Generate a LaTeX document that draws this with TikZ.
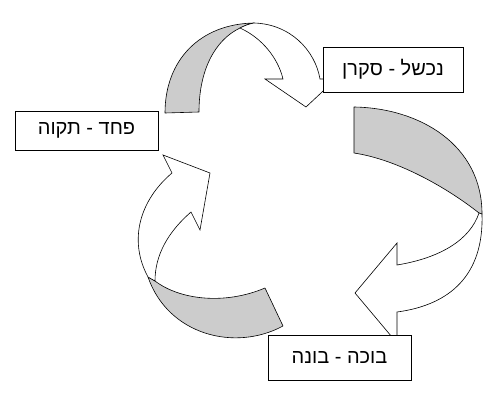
\documentclass[tikz,border=0pt]{standalone}
\usepackage{fontspec}
\newfontfamily\hebfont[Script=Hebrew]{Liberation Sans}
\TeXXeTstate=1
\usetikzlibrary{positioning}

\tikzset{
  box/.style={draw, line width=0.8pt, fill=white, minimum width=140pt,
    minimum height=45pt, inner sep=0pt, font=\hebfont\fontsize{20}{24}\selectfont},
  back/.style={draw, line width=0.6pt, fill=black!20, line join=round},
  face/.style={draw, line width=0.6pt, fill=white},
}

\begin{document}
\begin{tikzpicture}[x=1pt,y=-1pt]
  \useasboundingbox (0,0) rectangle (499,404);
  % top arrow
  \draw[back] (165,113) .. controls (165,60) and (200,24) .. (254,23)
    .. controls (248,24) and (244,26) .. (240,28)
    .. controls (215,40) and (199,70) .. (199,112) -- cycle;
  \draw[face] (254,23) .. controls (290,24) and (315,50) .. (320,79)
    -- (336,79) -- (306,107) -- (265,79) -- (283,79)
    .. controls (278,58) and (262,38) .. (240,28)
    .. controls (244,26) and (248,24) .. (254,23) -- cycle;
  % right arrow
  \draw[back] (354,107) .. controls (420,108) and (482,145) .. (482,214)
    -- (479,213) .. controls (450,190) and (400,160) .. (354,153) -- cycle;
  \draw[face] (482,214) .. controls (484,275) and (450,305) .. (397,312)
    -- (397,343) -- (355,293) -- (397,243) -- (397,265)
    .. controls (440,258) and (470,240) .. (479,213) -- cycle;
  % left arrow
  \draw[back] (148,277) -- (155,281) .. controls (180,300) and (225,305) .. (265,288)
    -- (283,326) .. controls (235,352) and (168,335) .. (148,277) -- cycle;
  \draw[face] (148,277) .. controls (128,240) and (140,200) .. (172,173)
    -- (163,155) -- (210,173) -- (200,230) -- (191,212)
    .. controls (168,232) and (155,255) .. (155,281) -- cycle;

  \node[box] (fail) at (393,69.5) {\beginR נכשל - סקרן\endR};
  \node[box, minimum width=143pt, minimum height=39pt] (fear) at (86.5,130.5) {\beginR פחד - תקוה\endR};
  \node[box, minimum width=143pt] (cry) at (339.5,357.5) {\beginR בוכה - בונה\endR};
\end{tikzpicture}
\end{document}
